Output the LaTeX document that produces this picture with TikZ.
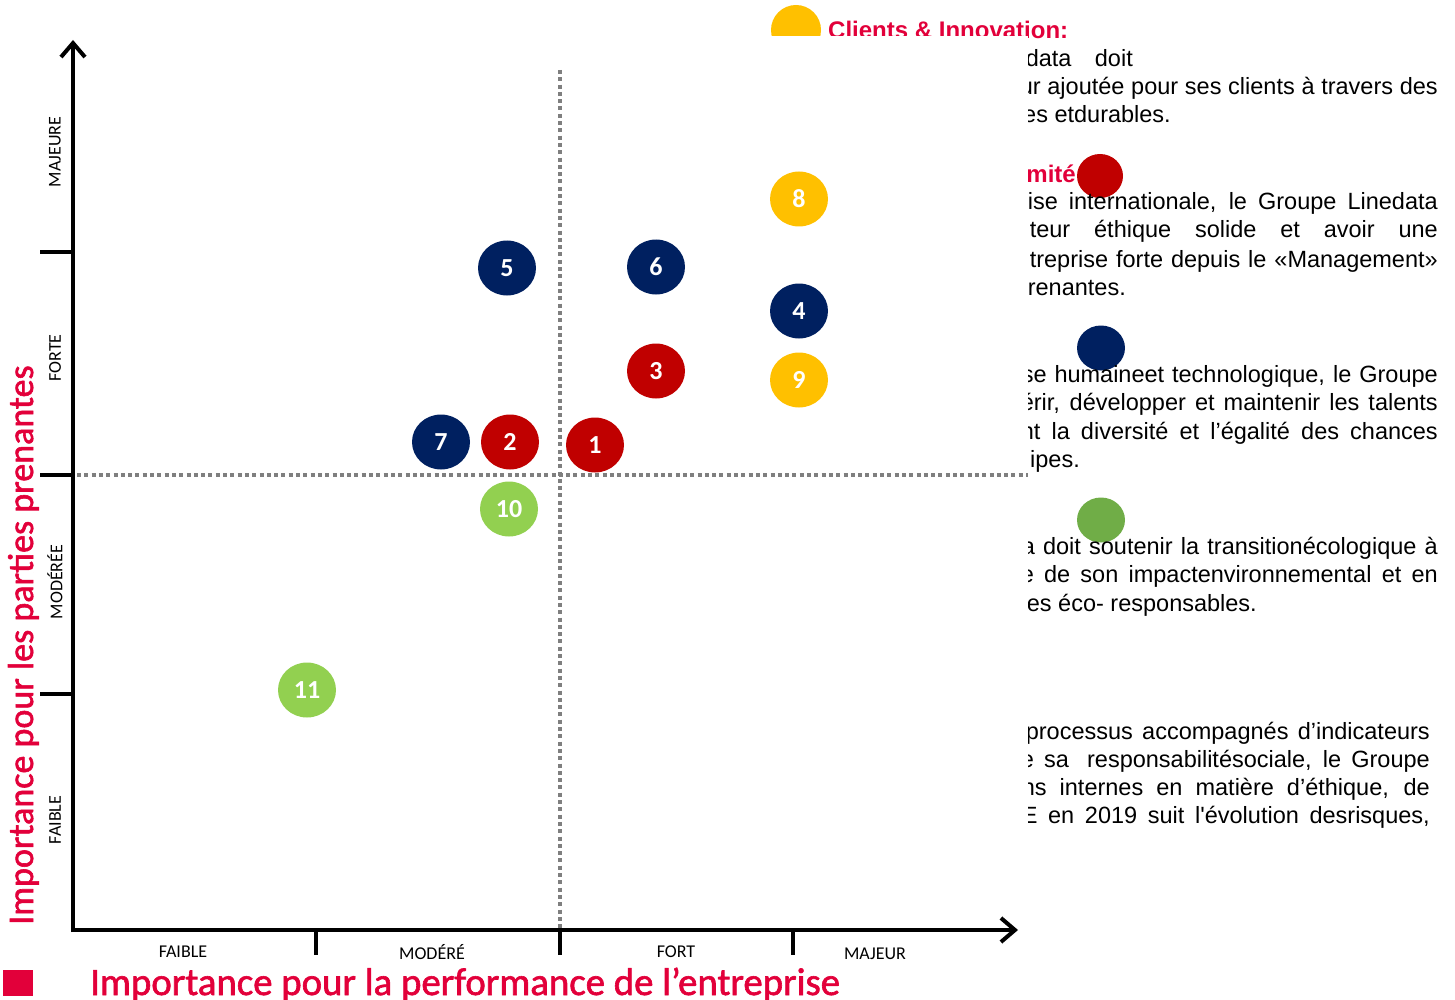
\documentclass[tikz,border=0pt]{standalone}
\usepackage{fontspec}
\setmainfont{Carlito}
\newfontfamily\arialfont{Liberation Sans}
\newfontfamily\titlefont{Carlito}[FakeBold=1.6]
\usepackage{tikz}
\usetikzlibrary{arrows.meta}
\usetikzlibrary{shapes.geometric}
\definecolor{navy}{HTML}{002060}
\definecolor{crimson}{RGB}{226,0,58}
\definecolor{darkred}{HTML}{C00000}
\definecolor{amber}{HTML}{FFC000}
\definecolor{lime}{HTML}{92D050}
\definecolor{leaf}{HTML}{70AD47}
\definecolor{dotgray}{HTML}{7F7F7F}
\newcommand{\setfs}[1]{\fontsize{#1}{#1}\selectfont}

\begin{document}
\begin{tikzpicture}[x=1pt,y=-1pt,inner sep=0pt,
  axis/.style={line width=4pt,-{Straight Barb[length=14pt,width=24pt]}},
  tick/.style={line width=4pt},
  dotline/.style={dotgray,line width=4.5pt,dash pattern=on 4pt off 3.3pt},
  bubble/.style={ellipse,minimum width=58pt,minimum height=55pt,text=white,font=\bfseries\setfs{26}},
  legdot/.style={ellipse,minimum width=48pt,minimum height=45pt},
  lvl/.style={font=\setfs{18}},
  body/.style={font=\arialfont\setfs{23.5},anchor=base east},
  head/.style={font=\arialfont\bfseries\setfs{24},text=crimson}]
\useasboundingbox (0,0) rectangle (1455,1000);

% legend on the right, partly hidden
\begin{scope}
\clip (760,0) rectangle (1455,36) (1028,36) rectangle (1455,1000);
\node [legdot,fill=amber,minimum width=50pt,minimum height=50pt] (L1) at (796,30) {};
\node [head,anchor=base west] (H1) at (828,39) {Clients \& Innovation:};
\node [body] (B1a) at (1133,67) {\makebox[107pt][s]{data doit}};
\node [body] (B1b) at (1438,95) {\makebox[418pt][s]{ur ajoutée pour ses clients à travers des}};
\node [body] (B1c) at (1171,123) {es etdurables.};
\node [head,anchor=base east] (H2) at (1076,183) {mité};
\node [legdot,fill=darkred,minimum width=46pt,minimum height=44pt] (L2) at (1100,176) {};
\node [body] (B2a) at (1438,210) {\makebox[410pt][s]{ise internationale, le Groupe Linedata}};
\node [body] (B2b) at (1438,238) {\makebox[408pt][s]{teur éthique solide et avoir une}};
\node [body] (B2c) at (1438,267) {\makebox[408pt][s]{treprise forte depuis le «Management»}};
\node [body] (B2d) at (1126,295) {renantes.};
\node [legdot,fill=navy] (L3) at (1101,348) {};
\node [body] (B3a) at (1438,382) {\makebox[416pt][s]{se humaineet technologique, le Groupe}};
\node [body] (B3b) at (1438,410) {\makebox[417pt][s]{érir, développer et maintenir les talents}};
\node [body] (B3c) at (1438,439) {\makebox[417pt][s]{nt la diversité et l’égalité des chances}};
\node [body] (B3d) at (1080,467) {ipes.};
\node [legdot,fill=leaf] (L4) at (1101,520) {};
\node [body] (B4a) at (1438,554) {\makebox[416pt][s]{a doit soutenir la transitionécologique à}};
\node [body] (B4b) at (1438,582) {\makebox[417pt][s]{e de son impactenvironnemental et en}};
\node [body] (B4c) at (1257,611) {es éco- responsables.};
\node [body] (B5a) at (1430,739) {\makebox[404pt][s]{processus accompagnés d’indicateurs}};
\node [body] (B5b) at (1430,767) {\makebox[409pt][s]{e sa\hspace{8pt} responsabilitésociale, le Groupe}};
\node [body] (B5c) at (1430,795) {\makebox[408pt][s]{ns internes en matière d’éthique, de}};
\node [body] (B5d) at (1430,823) {\makebox[408pt][s]{E en 2019 suit l'évolution desrisques,}};
\end{scope}

% quadrants
\draw [dotline] (560,70) -- (560,928);
\draw [dotline] (77,475) -- (1028,475);

% axes and ticks
\coordinate (O) at (73,930);
\draw [axis] (73,932) -- (73,40);
\draw [axis] (71,930) -- (1018,930);
\foreach \y in {252,475,694} \draw [tick] (40,\y) -- (O |- 0,\y);
\foreach \x in {316,560,793} \draw [tick] (\x,930) -- (\x,955);

% level labels
\node [lvl,rotate=90] (YA) at (55,152) {MAJEURE};
\node [lvl,rotate=90] (YB) at (55,358) {FORTE};
\node [lvl,rotate=90] (YC) at (55,582) {MODÉRÉE};
\node [lvl,rotate=90] (YD) at (55,820) {FAIBLE};
\node [lvl] (XA) at (183,952) {FAIBLE};
\node [lvl] (XB) at (432,952) {MODÉRÉ};
\node [lvl] (XC) at (676,952) {FORT};
\node [lvl] (XD) at (875,954) {MAJEUR};

% axis titles
\node [font=\titlefont\setfs{36},text=crimson,rotate=90,anchor=base west] (TY) at (33,925) {Importance pour les parties prenantes};
\node [fill=crimson,minimum width=30pt,minimum height=26pt] (SQ) at (18,983) {};
\node [font=\titlefont\setfs{38.8},text=crimson,anchor=base west] (TX) at (90,995) {Importance pour la performance de l’entreprise};

% issues
\node [bubble,fill=darkred] (P1) at (595,445) {1};
\node [bubble,fill=darkred] (P2) at (510,442) {2};
\node [bubble,fill=darkred] (P3) at (656,371) {3};
\node [bubble,fill=navy] (P4) at (799,311) {4};
\node [bubble,fill=navy] (P5) at (507,268) {5};
\node [bubble,fill=navy] (P6) at (656,267) {6};
\node [bubble,fill=navy] (P7) at (441,442) {7};
\node [bubble,fill=amber] (P8) at (799,199) {8};
\node [bubble,fill=amber] (P9) at (799,380) {9};
\node [bubble,fill=lime] (P10) at (509,509) {10};
\node [bubble,fill=lime] (P11) at (307,690) {11};
\end{tikzpicture}
\end{document}
